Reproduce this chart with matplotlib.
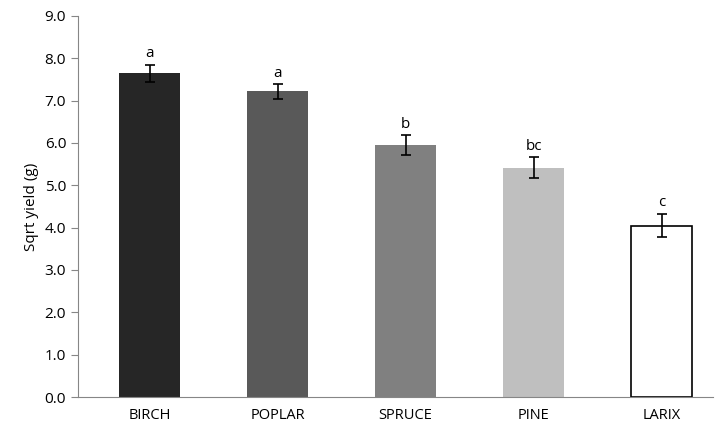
import matplotlib.pyplot as plt

species = ['BIRCH', 'POPLAR', 'SPRUCE', 'PINE', 'LARIX']
yield_sqrt = [7.65, 7.22, 5.95, 5.42, 4.05]
errors = [0.20, 0.17, 0.23, 0.24, 0.28]
letters = ['a', 'a', 'b', 'bc', 'c']
colors = ['#262626', '#595959', '#808080', '#bfbfbf', '#ffffff']

plt.rcParams['font.family'] = 'Open Sans'

fig = plt.figure(figsize=(7.15, 4.37), dpi=100)
ax = fig.add_axes([0.109, 0.0915, 0.888, 0.872])

x = range(len(species))
ax.bar(x, yield_sqrt, width=0.48, color=colors, edgecolor='black', linewidth=[0, 0, 0, 0, 1.2])
ax.errorbar(x, yield_sqrt, yerr=errors, fmt='none', ecolor='black', elinewidth=1.2, capsize=3.5, capthick=1.2)
for i, (v, e, l) in enumerate(zip(yield_sqrt, errors, letters)):
    ax.text(i, v + e + 0.08, l, ha='center', va='bottom', fontsize=11)

ax.set_xlim(-0.56, 4.4)
ax.set_ylim(0, 9)
ax.set_yticks([i for i in range(10)])
ax.set_yticklabels([f'{i:.1f}' for i in range(10)], fontsize=11)
ax.set_xticks(list(x))
ax.set_xticklabels(species, fontsize=10.5)
ax.tick_params(axis='x', length=0, pad=8)
ax.tick_params(axis='y', direction='out', length=5)
ax.set_ylabel('Sqrt yield (g)', fontsize=11)
ax.spines['top'].set_visible(False)
ax.spines['right'].set_visible(False)
ax.spines['left'].set_color('#868686')
ax.spines['bottom'].set_color('#868686')
ax.tick_params(colors='#868686', labelcolor='black')

fig.savefig('out.png', dpi=100)
